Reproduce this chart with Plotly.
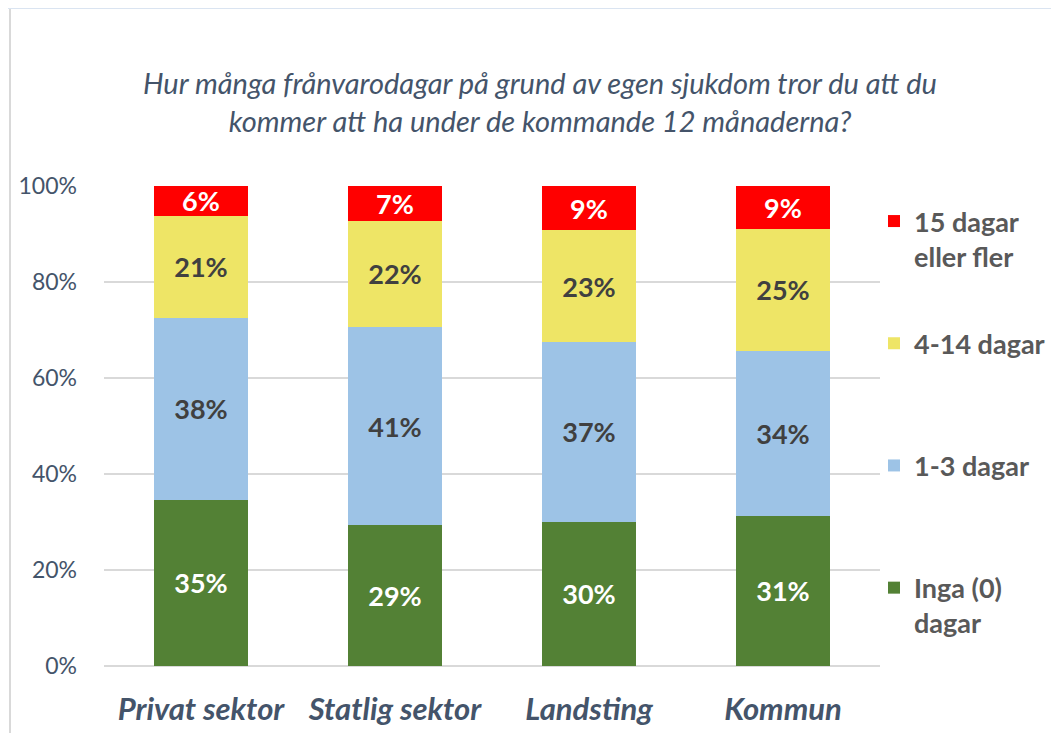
import plotly.graph_objects as go

categories = ["Privat sektor", "Statlig sektor", "Landsting", "Kommun"]
inga = [34.6, 29.3, 30.1, 31.3]
d1_3 = [38.0, 41.4, 37.4, 34.4]
d4_14 = [21.2, 22.1, 23.3, 25.3]
d15 = [6.2, 7.2, 9.2, 9.0]
y_ticks = [0, 20, 40, 60, 80, 100]

series = [
    ("Inga (0)<br>dagar", inga, "#538135", "white", 4),
    ("1-3 dagar<br> ", d1_3, "#9DC3E6", "#404040", 3),
    ("4-14 dagar<br> ", d4_14, "#EEE566", "#404040", 2),
    ("15 dagar<br>eller fler", d15, "#FF0000", "white", 1),
]

FONT = "Lato"
fig = go.Figure()
for name, vals, color, tcol, rank in series:
    fig.add_trace(go.Bar(
        x=categories, y=vals, name=name, marker_color=color,
        marker_line_width=0, width=0.48, legendrank=rank,
        legendgroup=f"g{rank}",
        texttemplate="%{y:.0f}%", textposition="inside",
        insidetextanchor="middle", textangle=0, constraintext="none",
        textfont=dict(family=FONT, size=27, color=tcol, weight="bold"),
    ))

# page has an 8px body margin; figure coordinates = reference - 8
OFF = 8
W, H = 1059 - OFF, 733 - OFF
L, R, T, B = 104 - OFF, 880 - OFF, 186 - OFF, 666 - OFF
def px(x):
    return (x - OFF - L) / (R - L)
def py(y):
    return (B - (y - OFF)) / (B - T)

fig.update_layout(
    width=W, height=H, barmode="stack",
    margin=dict(l=L, r=W - R, t=T, b=H - B, autoexpand=False),
    plot_bgcolor="white", paper_bgcolor="white",
    font=dict(family=FONT, color="#44546A"),
    uniformtext=dict(mode="show", minsize=27),
    title=dict(
        text="Hur många frånvarodagar på grund av egen sjukdom tror du att du<br>kommer att ha under de kommande 12 månaderna?",
        x=(540 - OFF) / W, xanchor="center", y=1 - (94 - OFF) / H, yanchor="top",
        font=dict(family=FONT, size=29, color="#44546A", style="italic"),
    ),
    xaxis=dict(
        range=[-0.5, 3.5], showgrid=False, showline=False, ticks="",
        tickfont=dict(family=FONT, size=31, color="#44546A", weight="bold", style="italic"),
        ticklabelstandoff=22, automargin=False,
    ),
    yaxis=dict(
        range=[0, 100], tickmode="array", tickvals=y_ticks,
        ticktext=[f"{v}%" for v in y_ticks],
        showgrid=True, gridcolor="#D9D9D9", gridwidth=1.5, zeroline=True,
        zerolinecolor="#D9D9D9", zerolinewidth=1.5, automargin=False,
        tickfont=dict(family=FONT, size=23, color="#44546A"), ticklabelstandoff=26,
    ),
    legend=dict(
        x=px(874), xanchor="left", y=py(197), yanchor="top",
        traceorder="grouped", tracegroupgap=49, valign="top",
        font=dict(family=FONT, size=27, color="#595959", weight="bold"),
        itemwidth=30, bgcolor="rgba(0,0,0,0)",
    ),
    showlegend=True,
)

fig.add_shape(type="line", xref="paper", yref="paper",
              x0=px(10), x1=px(10), y0=py(9), y1=py(740),
              line=dict(color="#D9D9D9", width=2))
fig.add_shape(type="rect", xref="paper", yref="paper",
              x0=px(0), x1=px(1059), y0=py(9), y1=py(7.5),
              fillcolor="#DAE4F1", line_width=0)

fig.write_html("out.html")
